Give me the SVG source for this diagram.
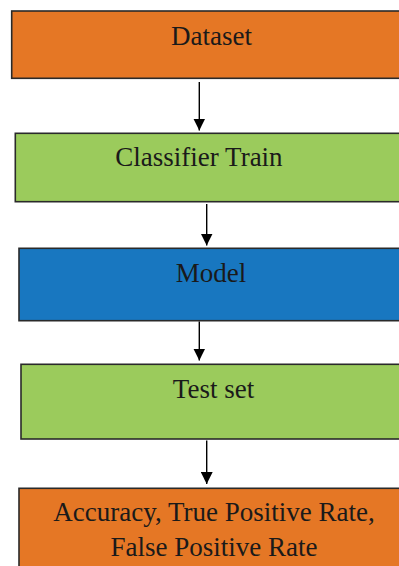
<svg xmlns="http://www.w3.org/2000/svg" width="399" height="566" viewBox="0 0 399 566">
  <defs>
    <marker id="ah" viewBox="0 0 12 12" refX="12" refY="6" markerWidth="12" markerHeight="12" markerUnits="userSpaceOnUse" orient="auto">
      <path d="M0,0 L12,6 L0,12 Z" fill="#000"/>
    </marker>
    <style>
      .box { stroke: #2a2a2a; stroke-width: 1.6; }
      .orange { fill: #E57725; }
      .green { fill: #9BCB5C; }
      .blue { fill: #1877C0; }
      .lbl { font-family: "Liberation Serif", "Times New Roman", serif; font-size: 27px; fill: #1a1a1a; text-anchor: middle; }
      .conn { stroke: #000; stroke-width: 1.4; fill: none; marker-end: url(#ah); }
    </style>
  </defs>
  <rect width="399" height="566" fill="#ffffff"/>
  <g id="dataset">
    <rect class="box orange" x="11.7" y="11" width="400" height="67.3"/>
    <text class="lbl" x="211.5" y="44.5">Dataset</text>
  </g>
  <g id="classifier-train">
    <rect class="box green" x="15.3" y="133.3" width="400" height="68.4"/>
    <text class="lbl" x="199" y="166">Classifier Train</text>
  </g>
  <g id="model">
    <rect class="box blue" x="19" y="248.3" width="400" height="72.4"/>
    <text class="lbl" x="211" y="281.5">Model</text>
  </g>
  <g id="test-set">
    <rect class="box green" x="21" y="364.3" width="400" height="74.7"/>
    <text class="lbl" x="213.5" y="397.5">Test set</text>
  </g>
  <g id="metrics">
    <rect class="box orange" x="19" y="488.3" width="400" height="100"/>
    <text class="lbl" x="214" y="521">Accuracy, True Positive Rate,</text>
    <text class="lbl" x="214" y="555.5">False Positive Rate</text>
  </g>
  <g id="connectors">
    <line class="conn" x1="199.3" y1="82" x2="199.3" y2="130.5"/>
    <line class="conn" x1="206.7" y1="204" x2="206.7" y2="245.5"/>
    <line class="conn" x1="199.3" y1="321.5" x2="199.3" y2="360.5"/>
    <line class="conn" x1="206.7" y1="440.5" x2="206.7" y2="484"/>
  </g>
</svg>
